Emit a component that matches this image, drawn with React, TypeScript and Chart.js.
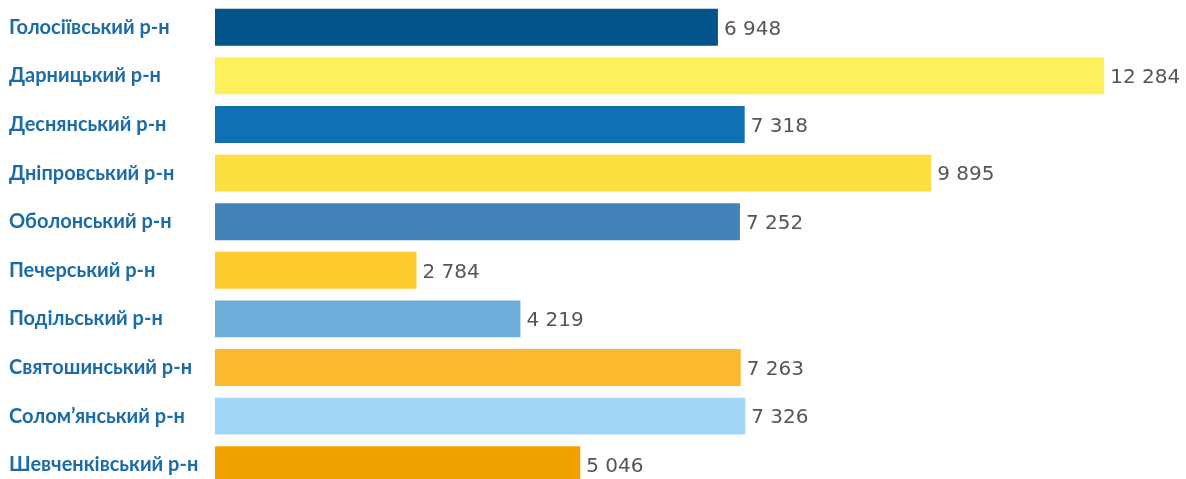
import React, { useEffect, useRef } from "react";
import { Chart, registerables } from "chart.js";

Chart.register(...registerables);

const districts = [
  "Голосіївський р-н",
  "Дарницький р-н",
  "Деснянський р-н",
  "Дніпровський р-н",
  "Оболонський р-н",
  "Печерський р-н",
  "Подільський р-н",
  "Святошинський р-н",
  "Солом’янський р-н",
  "Шевченківський р-н",
];

const values = [6948, 12284, 7318, 9895, 7252, 2784, 4219, 7263, 7326, 5046];

const barColors = [
  "#02548B",
  "#FEF05A",
  "#1170B3",
  "#FEDF40",
  "#4283BA",
  "#FECB2F",
  "#6EADD9",
  "#FBB92F",
  "#A0D7F6",
  "#F0A200",
];

const fmt = (v: number) => String(v).replace(/\B(?=(\d{3})+(?!\d))/g, " ");

const valueLabels = {
  id: "valueLabels",
  afterDatasetsDraw(chart: any) {
    const ctx = chart.ctx;
    const meta = chart.getDatasetMeta(0);
    ctx.save();
    ctx.fillStyle = "#555555";
    ctx.font = "20px 'DejaVu Sans'";
    ctx.textAlign = "left";
    ctx.textBaseline = "middle";
    meta.data.forEach((bar: any, i: number) => {
      ctx.fillText(fmt(values[i]), bar.x + 6, bar.y + 2);
    });
    ctx.restore();
  },
};

export default function App() {
  const ref = useRef<HTMLCanvasElement | null>(null);
  useEffect(() => {
    if (!ref.current) return;
    const chart = new Chart(ref.current, {
      type: "bar",
      data: {
        labels: districts,
        datasets: [
          {
            data: values,
            backgroundColor: barColors,
            barPercentage: 0.76,
            categoryPercentage: 1,
          },
        ],
      },
      options: {
        indexAxis: "y",
        animation: false,
        responsive: true,
        maintainAspectRatio: false,
        layout: { padding: { left: 9, top: 3, bottom: 1, right: 30 } },
        plugins: { legend: { display: false }, tooltip: { enabled: false } },
        scales: {
          x: { display: false, min: 0, max: 13000 },
          y: {
            grid: { display: false },
            border: { display: false },
            afterFit: (axis: any) => {
              axis.width = 206;
              axis.paddingTop = 0;
              axis.paddingBottom = 0;
            },
            ticks: {
              crossAlign: "far",
              color: "#1B6BA9",
              font: { family: "Lato", weight: "bold", size: 20 },
            },
          },
        },
      },
      plugins: [valueLabels],
    });
    return () => chart.destroy();
  }, []);
  return (
    <div
      style={{
        position: "fixed",
        left: 0,
        top: 0,
        width: 1186,
        height: 479,
        overflow: "hidden",
        background: "#fff",
      }}
    >
      <div style={{ position: "relative", width: 1186, height: 490 }}>
        <canvas ref={ref} />
      </div>
    </div>
  );
}
